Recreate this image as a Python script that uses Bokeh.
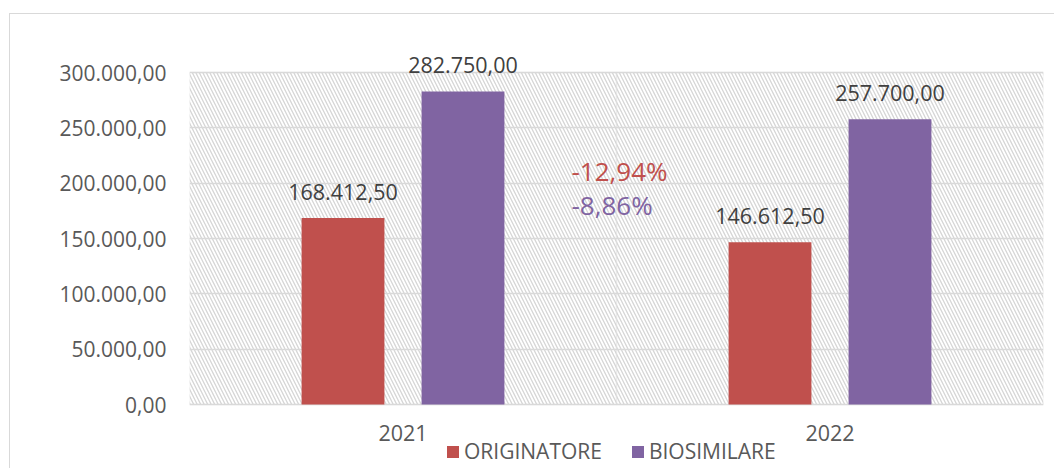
from bokeh.plotting import figure
from bokeh.models import (FactorRange, Range1d, FixedTicker, LabelSet, Label,
                          BoxAnnotation, Legend, LegendItem, ColumnDataSource)
from bokeh.core.properties import value
from bokeh.transform import dodge
from bokeh.embed import file_html
from bokeh.resources import INLINE

# ---- data ----
years = ["2021", "2022"]
originatore = [168412.50, 146612.50]
biosimilare = [282750.00, 257700.00]
series_names = ["ORIGINATORE", "BIOSIMILARE"]
series_colors = ["#C0504D", "#8064A2"]
y_ticks = [0, 50000, 100000, 150000, 200000, 250000, 300000]
y_max = 300000


def it_fmt(v):
    s = f"{v:,.2f}"
    return s.replace(",", "X").replace(".", ",").replace("X", ".")


def pct_fmt(a, b):
    return it_fmt((b - a) / a * 100) + "%"


FONT = "Open Sans"
GRID = "#d9d9d9"

# layout geometry (pixels): plot area 0 -> 300000 spans 332 px;
# the frame is extended above/below so that labels and legend are not clipped
PX_AREA = 332.0
PX_ABOVE = 364.0   # from value 0 up to frame top
PX_BELOW = 65.0    # from value 0 down to frame bottom
y_start = -y_max * PX_BELOW / PX_AREA
y_end = y_max * PX_ABOVE / PX_AREA

p = figure(x_range=FactorRange(*years), y_range=Range1d(y_start, y_end),
           x_axis_location=None,
           width=1045, height=455, output_backend="svg", toolbar_location=None,
           min_border_left=179, min_border_right=12, min_border_top=26,
           min_border_bottom=0,
           styles={"border-top": "1px solid #d9d9d9", "border-left": "1px solid #d9d9d9",
                   "margin-top": "13px", "margin-left": "9px"})
p.background_fill_color = "white"
p.border_fill_color = "white"
p.outline_line_color = None

# hatched plot area (two halves, outlined -> frame + middle divider)
n = len(years)
for i in range(n):
    p.add_layout(BoxAnnotation(left=i, right=i + 1, bottom=0, top=y_max,
                               fill_alpha=0, line_color=GRID, line_width=1.5,
                               hatch_pattern="\\", hatch_color="#d6d6d6",
                               hatch_scale=7, hatch_weight=1.3, level="image"))

p.xgrid.visible = False
p.ygrid.ticker = FixedTicker(ticks=y_ticks)
p.ygrid.grid_line_color = GRID
p.ygrid.grid_line_width = 1.5

src = ColumnDataSource(dict(
    year=years, orig=originatore, bio=biosimilare,
    orig_lbl=[it_fmt(v) for v in originatore],
    bio_lbl=[it_fmt(v) for v in biosimilare],
    zero=[0] * n,
))

OFF = 0.1405
BW = 0.194
r1 = p.vbar(x=dodge("year", -OFF, range=p.x_range), top="orig", width=BW, source=src,
            fill_color=series_colors[0], line_color=None)
r2 = p.vbar(x=dodge("year", OFF, range=p.x_range), top="bio", width=BW, source=src,
            fill_color=series_colors[1], line_color=None)

for col, lbl, off in (("orig", "orig_lbl", -OFF), ("bio", "bio_lbl", OFF)):
    p.add_layout(LabelSet(x=dodge("year", off, range=p.x_range), y=col, text=lbl, source=src,
                          text_align="center", text_baseline="alphabetic", y_offset=18.5,
                          text_font=value(FONT), text_font_size="21.5px",
                          text_color="#404040"))

# category labels under the plot area
p.add_layout(LabelSet(x="year", y="zero", text="year", source=src, text_align="center",
                      text_baseline="alphabetic", y_offset=-36,
                      text_font=value(FONT), text_font_size="21.5px", text_color="#595959"))

# percentage change labels
p.add_layout(Label(x=1.0, y=211100, x_offset=-45, text=pct_fmt(originatore[0], originatore[1]),
                   text_align="left", text_baseline="alphabetic", text_font=FONT,
                   text_font_size="26px", text_color=series_colors[0]))
p.add_layout(Label(x=1.0, y=180700, x_offset=-45, text=pct_fmt(biosimilare[0], biosimilare[1]),
                   text_align="left", text_baseline="alphabetic", text_font=FONT,
                   text_font_size="26px", text_color=series_colors[1]))

# y axis
p.yaxis.ticker = FixedTicker(ticks=y_ticks)
p.yaxis.major_label_overrides = {t: it_fmt(t) for t in y_ticks}
p.yaxis.axis_line_color = None
p.yaxis.major_tick_line_color = None
p.yaxis.minor_tick_line_color = None
p.yaxis.major_tick_out = 0
p.yaxis.major_tick_in = 0
p.yaxis.major_label_standoff = 23
p.yaxis.major_label_text_font = FONT
p.yaxis.major_label_text_font_size = "21px"
p.yaxis.major_label_text_color = "#595959"

legend = Legend(items=[LegendItem(label=series_names[0], renderers=[r1]),
                       LegendItem(label=series_names[1], renderers=[r2])],
                orientation="horizontal", location=(256, 4), glyph_width=15,
                glyph_height=15, label_standoff=4, spacing=28, padding=0, margin=0,
                background_fill_alpha=0, border_line_alpha=0, label_text_font=FONT,
                label_text_font_size="21px", label_text_color="#595959")
p.add_layout(legend, "center")

open("out.html", "w").write(file_html(p, INLINE))
